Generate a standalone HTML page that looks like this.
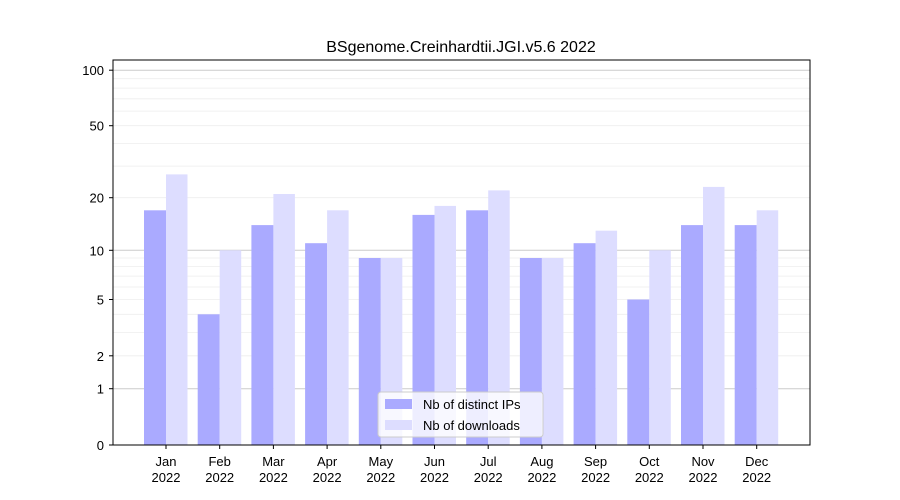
<!DOCTYPE html>
<html><head><meta charset="utf-8"><style>body{margin:0;background:#fff}svg{display:block}</style></head><body>
<svg width="900" height="500" xmlns="http://www.w3.org/2000/svg" font-family="Liberation Sans, DejaVu Sans, sans-serif">
<rect width="900" height="500" fill="#fff"/>
<g stroke="#eee" stroke-width="0.8">
<line x1="113" x2="810" y1="355.8" y2="355.8"/><line x1="113" x2="810" y1="332.4" y2="332.4"/><line x1="113" x2="810" y1="314.3" y2="314.3"/><line x1="113" x2="810" y1="299.5" y2="299.5"/><line x1="113" x2="810" y1="287" y2="287"/><line x1="113" x2="810" y1="276.1" y2="276.1"/><line x1="113" x2="810" y1="266.6" y2="266.6"/><line x1="113" x2="810" y1="258" y2="258"/>
<line x1="113" x2="810" y1="197.7" y2="197.7"/><line x1="113" x2="810" y1="166.1" y2="166.1"/><line x1="113" x2="810" y1="143.4" y2="143.4"/><line x1="113" x2="810" y1="125.7" y2="125.7"/><line x1="113" x2="810" y1="111.1" y2="111.1"/><line x1="113" x2="810" y1="98.8" y2="98.8"/><line x1="113" x2="810" y1="88.1" y2="88.1"/><line x1="113" x2="810" y1="78.7" y2="78.7"/>
</g>
<g stroke="#ccc" stroke-width="1">
<line x1="113" x2="810" y1="388.7" y2="388.7"/><line x1="113" x2="810" y1="250.3" y2="250.3"/><line x1="113" x2="810" y1="70.2" y2="70.2"/>
</g>
<g fill="#aaaaff">
<rect x="144" y="210.3" width="22" height="234.7"/>
<rect x="197.7" y="314.3" width="22" height="130.7"/>
<rect x="251.4" y="225.1" width="22" height="219.9"/>
<rect x="305.1" y="243.2" width="22" height="201.8"/>
<rect x="358.8" y="258" width="22" height="187"/>
<rect x="412.5" y="214.9" width="22" height="230.1"/>
<rect x="466.2" y="210.3" width="22" height="234.7"/>
<rect x="519.9" y="258" width="22" height="187"/>
<rect x="573.6" y="243.2" width="22" height="201.8"/>
<rect x="627.3" y="299.5" width="22" height="145.5"/>
<rect x="681" y="225.1" width="22" height="219.9"/>
<rect x="734.7" y="225.1" width="22" height="219.9"/>
</g>
<g fill="#ddddff">
<rect x="166" y="174.4" width="21.5" height="270.6"/>
<rect x="219.7" y="250.3" width="21.5" height="194.7"/>
<rect x="273.4" y="194" width="21.5" height="251"/>
<rect x="327.1" y="210.3" width="21.5" height="234.7"/>
<rect x="380.8" y="258" width="21.5" height="187"/>
<rect x="434.5" y="205.9" width="21.5" height="239.1"/>
<rect x="488.2" y="190.4" width="21.5" height="254.6"/>
<rect x="541.9" y="258" width="21.5" height="187"/>
<rect x="595.6" y="230.7" width="21.5" height="214.3"/>
<rect x="649.3" y="250.3" width="21.5" height="194.7"/>
<rect x="703" y="186.9" width="21.5" height="258.1"/>
<rect x="756.7" y="210.3" width="21.5" height="234.7"/>
</g>
<rect x="113" y="60" width="697" height="385" fill="none" stroke="#000" stroke-width="1"/>
<g stroke="#000">
<line x1="166" x2="166" y1="445" y2="449"/><line x1="219.7" x2="219.7" y1="445" y2="449"/><line x1="273.4" x2="273.4" y1="445" y2="449"/><line x1="327.1" x2="327.1" y1="445" y2="449"/><line x1="380.8" x2="380.8" y1="445" y2="449"/><line x1="434.5" x2="434.5" y1="445" y2="449"/><line x1="488.2" x2="488.2" y1="445" y2="449"/><line x1="541.9" x2="541.9" y1="445" y2="449"/><line x1="595.6" x2="595.6" y1="445" y2="449"/><line x1="649.3" x2="649.3" y1="445" y2="449"/><line x1="703" x2="703" y1="445" y2="449"/><line x1="756.7" x2="756.7" y1="445" y2="449"/>
<line x1="109" x2="113" y1="445" y2="445"/><line x1="109" x2="113" y1="388.7" y2="388.7"/><line x1="109" x2="113" y1="355.8" y2="355.8"/><line x1="109" x2="113" y1="299.5" y2="299.5"/><line x1="109" x2="113" y1="250.3" y2="250.3"/><line x1="109" x2="113" y1="197.7" y2="197.7"/><line x1="109" x2="113" y1="125.7" y2="125.7"/><line x1="109" x2="113" y1="70.2" y2="70.2"/>
</g>
<g font-size="13" fill="#000" text-anchor="middle">
<text x="166" y="466">Jan</text><text x="166" y="482">2022</text>
<text x="219.7" y="466">Feb</text><text x="219.7" y="482">2022</text>
<text x="273.4" y="466">Mar</text><text x="273.4" y="482">2022</text>
<text x="327.1" y="466">Apr</text><text x="327.1" y="482">2022</text>
<text x="380.8" y="466">May</text><text x="380.8" y="482">2022</text>
<text x="434.5" y="466">Jun</text><text x="434.5" y="482">2022</text>
<text x="488.2" y="466">Jul</text><text x="488.2" y="482">2022</text>
<text x="541.9" y="466">Aug</text><text x="541.9" y="482">2022</text>
<text x="595.6" y="466">Sep</text><text x="595.6" y="482">2022</text>
<text x="649.3" y="466">Oct</text><text x="649.3" y="482">2022</text>
<text x="703" y="466">Nov</text><text x="703" y="482">2022</text>
<text x="756.7" y="466">Dec</text><text x="756.7" y="482">2022</text>
</g>
<g font-size="13" fill="#000" text-anchor="end">
<text x="104" y="450">0</text><text x="104" y="393.7">1</text><text x="104" y="360.8">2</text><text x="104" y="304.5">5</text><text x="104" y="255.3">10</text><text x="104" y="202.7">20</text><text x="104" y="130.7">50</text><text x="104" y="75.2">100</text>
</g>
<text x="461" y="52" text-anchor="middle" font-size="16">BSgenome.Creinhardtii.JGI.v5.6 2022</text>
<rect x="378" y="392" width="165" height="45" fill="#fff" fill-opacity="0.8" stroke="#ccc" rx="3"/>
<rect x="385" y="399" width="27" height="10" fill="#aaaaff"/>
<rect x="385" y="420" width="27" height="10" fill="#ddddff"/>
<text x="423" y="409" font-size="13">Nb of distinct IPs</text>
<text x="423" y="430" font-size="13">Nb of downloads</text>
</svg>
</body></html>
